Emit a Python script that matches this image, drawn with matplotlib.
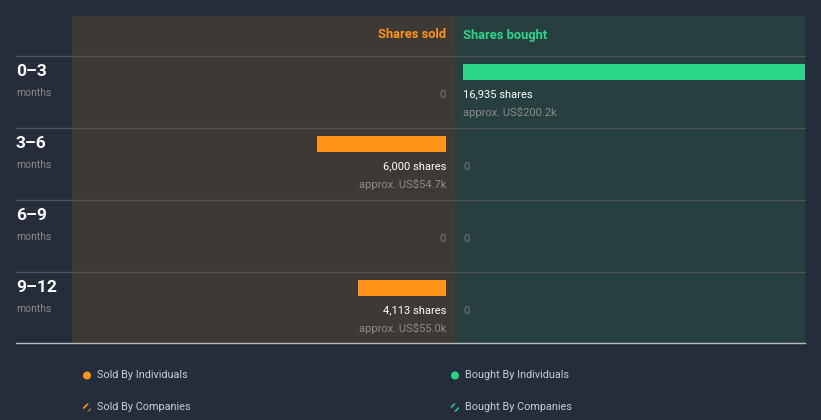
import matplotlib.pyplot as plt
from matplotlib.patches import Circle

periods = ['0–3', '3–6', '6–9', '9–12']
sold_shares = [0, 6000, 0, 4113]
sold_value = ['', 'approx. US$54.7k', '', 'approx. US$55.0k']
bought_shares = [16935, 0, 0, 0]
bought_value = ['approx. US$200.2k', '', '', '']

bg = '#262d3a'
orange = '#ff9418'
green = '#2bd68a'
grey = '#8b8b8b'
W, H = 821, 420
plt.rcParams['font.family'] = ['Roboto', 'DejaVu Sans']
plt.rcParams['hatch.linewidth'] = 1.2

fig = plt.figure(figsize=(W / 100, H / 100), dpi=100, facecolor=bg)

def frac(x0, y0, x1, y1):
    return [x0 / W, 1 - y1 / H, (x1 - x0) / W, (y1 - y0) / H]

# pixel based overlay for panels, lines and text
base = fig.add_axes([0, 0, 1, 1])
base.set_xlim(0, W)
base.set_ylim(H, 0)
base.axis('off')
base.set_facecolor(bg)
base.axvspan(72, 455, ymin=1 - 343 / H, ymax=1 - 16 / H, color='#3d3935', lw=0, zorder=0)
base.axvspan(455, 805, ymin=1 - 343 / H, ymax=1 - 16 / H, color='#27403f', lw=0, zorder=0)

px_per_share = 129 / 6000
top, row_h = 56, 72

# sold panel (right to left)
ax_s = fig.add_axes(frac(72, 16, 455, 343))
ax_s.set_xlim(374 / px_per_share, -9 / px_per_share)
ax_s.set_ylim(343, 16)
ax_s.axis('off')
# bought panel
ax_b = fig.add_axes(frac(455, 16, 805, 343))
ax_b.set_xlim(-8 / px_per_share, 342 / px_per_share)
ax_b.set_ylim(343, 16)
ax_b.axis('off')

row_y = [top + row_h * i for i in range(len(periods))]
ax_s.barh([y + 16 for y in row_y], sold_shares, height=16, color=orange)
ax_b.barh([y + 16 for y in row_y], bought_shares, height=16, color=green)

for i, p in enumerate(periods):
    y = row_y[i]
    base.plot([16, 805], [y, y], color='#505357', lw=1, zorder=1)
    base.text(16, y + 15, p, color='white', fontsize=12.5, fontweight='bold', va='center')
    base.text(16, y + 36.5, 'months', color=grey, fontsize=7.5, va='center')
    if sold_shares[i]:
        base.text(446, y + 38.5, f'{sold_shares[i]:,} shares', color='white', fontsize=8, ha='right', va='center')
        base.text(446, y + 56.5, sold_value[i], color=grey, fontsize=8, ha='right', va='center')
    else:
        base.text(446, y + 38.5, '0', color='#77787a', fontsize=8, ha='right', va='center')
    if bought_shares[i]:
        base.text(463, y + 38.5, f'{bought_shares[i]:,} shares', color='white', fontsize=8, ha='left', va='center')
        base.text(463, y + 56.5, bought_value[i], color=grey, fontsize=8, ha='left', va='center')
    else:
        base.text(463, y + 38.5, '0', color='#77787a', fontsize=8, ha='left', va='center')

base.plot([16, 805], [343, 343], color='#b8bcc0', lw=1, zorder=3)
base.text(446, 35, 'Shares sold', color=orange, fontsize=9.3, fontweight='bold', ha='right', va='center')
base.text(463, 35, 'Shares bought', color=green, fontsize=9.3, fontweight='bold', ha='left', va='center')

# legend
legend = [('Sold By Individuals', orange, None, 87, 375.5),
          ('Bought By Individuals', green, None, 455, 375.5),
          ('Sold By Companies', orange, '////', 87, 407.5),
          ('Bought By Companies', green, '////', 455, 407.5)]
for label, c, hatch, x, y in legend:
    if hatch:
        base.add_patch(Circle((x, y), 4, facecolor=bg, edgecolor=c, hatch=hatch, lw=0))
    else:
        base.add_patch(Circle((x, y), 4, color=c, lw=0))
    base.text(x + 10, y, label, color='#c8ccd2', fontsize=7.8, va='center')

fig.savefig('out.png', dpi=100, facecolor=bg)
